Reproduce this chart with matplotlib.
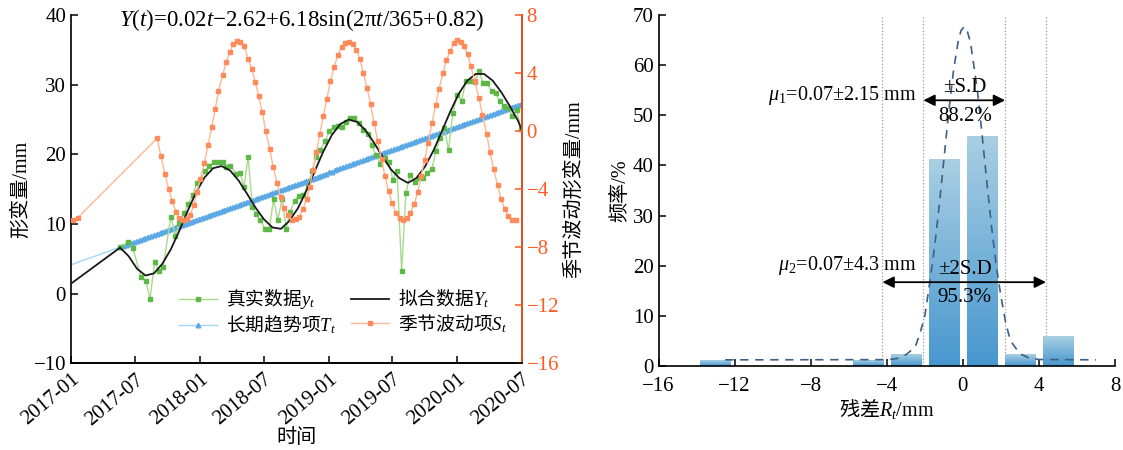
import numpy as np
import matplotlib.pyplot as plt
import matplotlib.dates as mdates
from matplotlib.colors import LinearSegmentedColormap

plt.rcParams['font.family'] = ['Liberation Serif', 'Noto Sans CJK SC']
plt.rcParams['mathtext.fontset'] = 'custom'
plt.rcParams['mathtext.rm'] = 'Liberation Serif'
plt.rcParams['mathtext.it'] = 'Liberation Serif:italic'
plt.rcParams['mathtext.sf'] = 'Noto Sans CJK SC'   # used for Chinese inside math strings
plt.rcParams['font.size'] = 15

# ---- left panel data (days since 2017-01-01) ----
start_date = np.datetime64('2017-01-01')

obs_day = [139, 163, 175, 199, 212, 224, 237, 249, 261, 283, 296, 307, 321, 332, 345,
           357, 367, 380, 392, 404, 417, 430, 440, 452, 467, 479, 490, 502, 514, 525,
           537, 550, 562, 574, 586, 598, 610, 621, 634, 646, 658, 671, 683, 695, 707,
           720, 732, 744, 756, 769, 780, 791, 803, 816, 828, 841, 852, 864, 876, 889,
           901, 912, 924, 937, 949, 961, 974, 986, 998, 1010, 1023, 1034, 1046, 1058, 1070,
           1082, 1094, 1107, 1119, 1131, 1144, 1156, 1167, 1179, 1192, 1203, 1215, 1227, 1239, 1251,
           1263, 1275]
obs_val = [6.67, 7.45, 6.5, 2.4, 1.76, -0.71, 4.5, 3.2, 3.8, 11.03, 8.32, 10.1, 11.52, 12.81, 14.14,
           15.9, 16.29, 17.57, 18.33, 18.95, 18.9, 18.86, 18.2, 18.35, 17.24, 17.38, 15.33, 19.62, 12.48, 11.38,
           10.57, 9.24, 9.24, 13.57, 10.57, 13.57, 9.29, 11.76, 13.33, 14.05, 14.14, 15.33, 17.57, 19.62, 20.67,
           21.86, 23.29, 23.9, 24.05, 23.9, 24.7, 25.14, 25.14, 24.48, 23.52, 22.95, 21.29, 19.95, 18.67, 19.52,
           18.86, 16.38, 17.62, 3.19, 14.38, 17.04, 16.05, 16.67, 16.67, 17.33, 17.95, 20.48, 22.33, 23.81, 20.57,
           25.9, 28.52, 27.71, 30.57, 30.57, 30.33, 32.0, 30.29, 30.24, 29.05, 28.81, 27.62, 26.95, 26.67, 25.57,
           26.38, 23.57]

fit_day = [0] + list(range(139, 1268, 24)) + [1277]
fit_val = [1.43, 6.6, 5.4, 3.58, 2.6, 2.9, 4.29, 6.37, 9.02, 11.9, 14.59, 16.71, 18.01, 18.31, 17.67,
           16.23, 14.33, 12.34, 10.66, 9.5, 9.3, 10.45, 12.25, 14.76, 17.6, 20.4, 22.75, 24.34, 24.99,
           24.64, 23.44, 21.65, 19.64, 17.82, 16.56, 15.9, 16.6, 18.22, 20.52, 23.3, 26.16, 28.71, 30.57,
           31.54, 31.52, 30.57, 28.95, 26.96, 24.8, 23.5]

trend_day = [0] + list(range(139, 1276, 8))
trend_val = [4.14,
             6.67, 6.81, 6.96, 7.10, 7.25, 7.39, 7.54, 7.68, 7.83, 7.97,
             8.12, 8.26, 8.41, 8.55, 8.70, 8.84, 8.99, 9.13, 9.28, 9.42,
             9.57, 9.71, 9.86, 10.00, 10.15, 10.29, 10.44, 10.58, 10.72, 10.87,
             11.01, 11.16, 11.30, 11.45, 11.59, 11.74, 11.88, 12.03, 12.17, 12.32,
             12.46, 12.61, 12.75, 12.90, 13.04, 13.19, 13.33, 13.48, 13.62, 13.77,
             13.91, 14.05, 14.20, 14.34, 14.49, 14.63, 14.78, 14.92, 15.07, 15.21,
             15.36, 15.50, 15.65, 15.79, 15.94, 16.08, 16.23, 16.37, 16.52, 16.66,
             16.81, 16.95, 17.10, 17.24, 17.39, 17.53, 17.68, 17.82, 17.97, 18.11,
             18.25, 18.40, 18.54, 18.69, 18.83, 18.98, 19.12, 19.27, 19.41, 19.56,
             19.70, 19.85, 19.99, 20.14, 20.28, 20.43, 20.57, 20.72, 20.86, 21.01,
             21.15, 21.30, 21.44, 21.59, 21.73, 21.87, 22.02, 22.16, 22.31, 22.45,
             22.60, 22.74, 22.89, 23.03, 23.18, 23.32, 23.47, 23.61, 23.76, 23.90,
             24.05, 24.19, 24.34, 24.48, 24.63, 24.77, 24.92, 25.06, 25.21, 25.35,
             25.49, 25.64, 25.78, 25.93, 26.07, 26.22, 26.36, 26.51, 26.65, 26.80,
             26.94, 27.09, 27.23]

season_day = [7, 19, 244, 255, 266, 277, 287, 297, 307, 318, 328, 337, 348, 357, 366,
              378, 388, 399, 409, 418, 430, 440, 450, 460, 470, 480, 490, 502, 512, 522,
              532, 542, 552, 563, 573, 584, 594, 604, 616, 626, 637, 647, 657, 668, 677,
              685, 695, 705, 715, 725, 735, 746, 756, 767, 776, 788, 800, 809, 819, 828,
              839, 849, 859, 869, 880, 890, 900, 910, 920, 931, 941, 952, 962, 973, 983,
              992, 1002, 1012, 1023, 1033, 1043, 1054, 1064, 1075, 1084, 1094, 1105, 1114, 1124, 1133,
              1144, 1156, 1166, 1178, 1187, 1198, 1209, 1219, 1230, 1239, 1250, 1261]
season_val = [-6.14, -5.97, -0.5, -1.75, -2.94, -3.97, -4.85, -5.56, -5.97, -6.14, -6.04, -5.79, -5.12, -4.23, -3.33,
              -2.21, -0.99, 0.3, 1.54, 2.76, 3.86, 4.74, 5.48, 5.98, 6.21, 6.17, 5.86, 5.0, 4.3, 3.4,
              2.4, 1.31, 0.0, -1.21, -2.46, -3.57, -4.52, -5.28, -5.81, -6.14, -6.09, -5.9, -5.4, -4.66, -3.83,
              -2.71, -1.47, -0.23, 1.03, 2.19, 3.43, 4.41, 5.24, 5.79, 6.1, 6.17, 6.03, 5.57, 4.94, 4.03,
              2.99, 1.84, 0.58, -0.69, -1.95, -3.1, -4.14, -4.94, -5.63, -6.02, -6.16, -6.02, -5.63, -5.01, -4.18,
              -3.1, -2.0, -0.8, 0.53, 1.77, 2.92, 3.98, 4.9, 5.52, 6.1, 6.26, 6.17, 5.85, 5.3, 4.48,
              3.45, 2.3, 1.1, -0.18, -1.45, -2.64, -3.74, -4.71, -5.4, -5.86, -6.14, -6.14]

# ---- right panel data ----
bin_center = [-13, -5, -3, -1, 1, 3, 5]
bin_pct = [1.18, 1.18, 2.35, 41.18, 45.88, 2.35, 5.88]
curve_x = [-12.5, -4.0, -3.5, -3.0, -2.5, -2.25, -2.0, -1.75, -1.5, -1.25, -1.0, -0.75, -0.5, -0.25, -0.1,
           0.07, 0.2, 0.4, 0.75, 1.0, 1.25, 1.5, 1.75, 2.0, 2.25, 2.5, 3.0, 3.5, 4.0, 7.0]
curve_y = [1.2, 1.24, 1.43, 2.2, 3.8, 6.6, 10.0, 16.4, 23.4, 31.8, 41.2, 50.5, 58.75, 64.74, 66.9,
           67.7, 67.2, 64.55, 55.3, 46.45, 37.0, 27.97, 20.1, 13.87, 8.6, 5.0, 2.4, 1.55, 1.27, 1.2]
mu = 0.07
sd1 = 2.15
sd2 = 4.3

green_line, green_mk = '#A8DA8C', '#5CB946'
blue_line, blue_mk = '#A3D6F4', '#5AA8E4'
orange_line, orange_mk = '#FFB794', '#FF8B5B'
orange_axis = '#FF5A22'

fig = plt.figure(figsize=(11.23, 4.5), dpi=100)

# ================= left: time series =================
ax = fig.add_axes([0.0632, 0.1927, 0.4013, 0.774])
ax2 = ax.twinx()

def to_date(days):
    return start_date + np.array(days).astype('timedelta64[D]')

h_tr, = ax.plot(to_date(trend_day), trend_val, color=blue_line, lw=1.0, marker='^', ms=3.3,
                mfc=blue_mk, mec=blue_mk, markevery=list(range(1, len(trend_day))), zorder=2)
h_obs, = ax.plot(to_date(obs_day), obs_val, color=green_line, lw=1.0, marker='s', ms=3.3,
                 mfc=green_mk, mec=green_mk, zorder=3)
h_fit, = ax.plot(to_date(fit_day), fit_val, color='#1a1a1a', lw=1.3, zorder=4)
h_se, = ax2.plot(to_date(season_day), season_val, color=orange_line, lw=1.0, marker='s', ms=3.3,
                 mfc=orange_mk, mec=orange_mk, zorder=2)

ax.set_xlim(np.datetime64('2017-01-01'), np.datetime64('2020-07-01'))
ax.set_ylim(-10, 40)
ax.set_yticks(range(-10, 41, 10))
ax2.set_ylim(-16, 8)
ax2.set_yticks(range(-16, 9, 4))
ax.xaxis.set_major_locator(mdates.MonthLocator(bymonth=[1, 7]))
ax.xaxis.set_major_formatter(mdates.DateFormatter('%Y-%m'))
plt.setp(ax.get_xticklabels(), rotation=40, ha='right', rotation_mode='anchor')

for a in (ax, ax2):
    a.spines['top'].set_visible(False)
    for s in a.spines.values():
        s.set_linewidth(1.2)
ax2.spines['left'].set_visible(False)
ax2.spines['right'].set_color(orange_axis)
ax.tick_params(direction='in', length=5, width=1.1, labelsize=15)
ax.tick_params(axis='x', pad=5)
ax2.tick_params(direction='in', length=5, width=1.1, colors=orange_axis, labelsize=15)

ax.set_ylabel('形变量/mm', labelpad=2, fontsize=14.5)
ax2.set_ylabel('季节波动形变量/mm', labelpad=4, fontsize=14.5)
ax.set_xlabel('时间', labelpad=0, fontsize=14.5)

ax.text(0.512, 0.985, '$Y$($t$)=0.02$t$\u22122.62+6.18sin(2π$t$/365+0.82)',
        transform=ax.transAxes, ha='center', va='center', fontsize=16.5)

ax2.legend([h_obs, h_tr, h_fit, h_se],
           ['$\\mathsf{真实数据}y_t$', '$\\mathsf{长期趋势项}T_t$',
            '$\\mathsf{拟合数据}Y_t$', '$\\mathsf{季节波动项}S_t$'],
           ncol=2, loc='lower right', bbox_to_anchor=(1.005, 0.03), frameon=False, fontsize=13.5,
           handlelength=2.0, columnspacing=0.8, labelspacing=0.1, handletextpad=0.5)

# ================= right: residual histogram =================
axh = fig.add_axes([0.5865, 0.187, 0.4064, 0.7794])
bars = axh.bar(bin_center, bin_pct, width=1.6, color='none', edgecolor='none')
cmap = LinearSegmentedColormap.from_list('bar_grad', ['#4797CF', '#A9CFE3'])
grad = np.linspace(0, 1, 128).reshape(-1, 1)
for b in bars:
    x0, y0 = b.get_x(), b.get_y()
    axh.imshow(grad, extent=[x0, x0 + b.get_width(), y0, y0 + b.get_height()],
               origin='lower', aspect='auto', cmap=cmap, zorder=2)

axh.plot(curve_x, curve_y, ls=(0, (5, 4)), color='#3E5F86', lw=1.2, zorder=3)
for v in (mu - sd2, mu - sd1, mu + sd1, mu + sd2):
    axh.axvline(v, color='#9a9a9a', ls=':', lw=0.9, zorder=1)

arrow_kw = dict(arrowstyle='<|-|>', color='k', lw=1.3, mutation_scale=17, shrinkA=0, shrinkB=0)
axh.annotate('', xy=(mu + sd1, 53), xytext=(mu - sd1, 53), arrowprops=arrow_kw, zorder=4)
axh.annotate('', xy=(mu + sd2, 16.7), xytext=(mu - sd2, 16.7), arrowprops=arrow_kw, zorder=4)
axh.text(0.12, 55.6, '±S.D', ha='center', va='center', fontsize=15, zorder=5)
axh.text(0.12, 49.7, '88.2%', ha='center', va='center', fontsize=15, zorder=5)
axh.text(0.1, 19.3, '±2S.D', ha='center', va='center', fontsize=15, zorder=5)
axh.text(0.1, 13.6, '95.3%', ha='center', va='center', fontsize=15, zorder=5)
axh.text(-2.45, 54.0, '$\\mu_1$=0.07±2.15 mm', ha='right', va='center', fontsize=14.5, zorder=5)
axh.text(-2.45, 20.1, '$\\mu_2$=0.07±4.3 mm', ha='right', va='center', fontsize=14.5, zorder=5)

axh.set_xlim(-16, 8)
axh.set_ylim(0, 70)
axh.set_xticks(range(-16, 9, 4))
axh.set_yticks(range(0, 71, 10))
axh.spines['top'].set_visible(False)
axh.spines['right'].set_visible(False)
for s in axh.spines.values():
    s.set_linewidth(1.2)
axh.tick_params(direction='in', length=5, width=1.1, labelsize=15)
axh.tick_params(axis='x', pad=8)
axh.set_ylabel('频率/%', labelpad=2, fontsize=14.5)
axh.set_xlabel('$\\mathsf{残差}R_t$/mm', labelpad=1, fontsize=14.5)

fig.savefig('out.png', dpi=100)
